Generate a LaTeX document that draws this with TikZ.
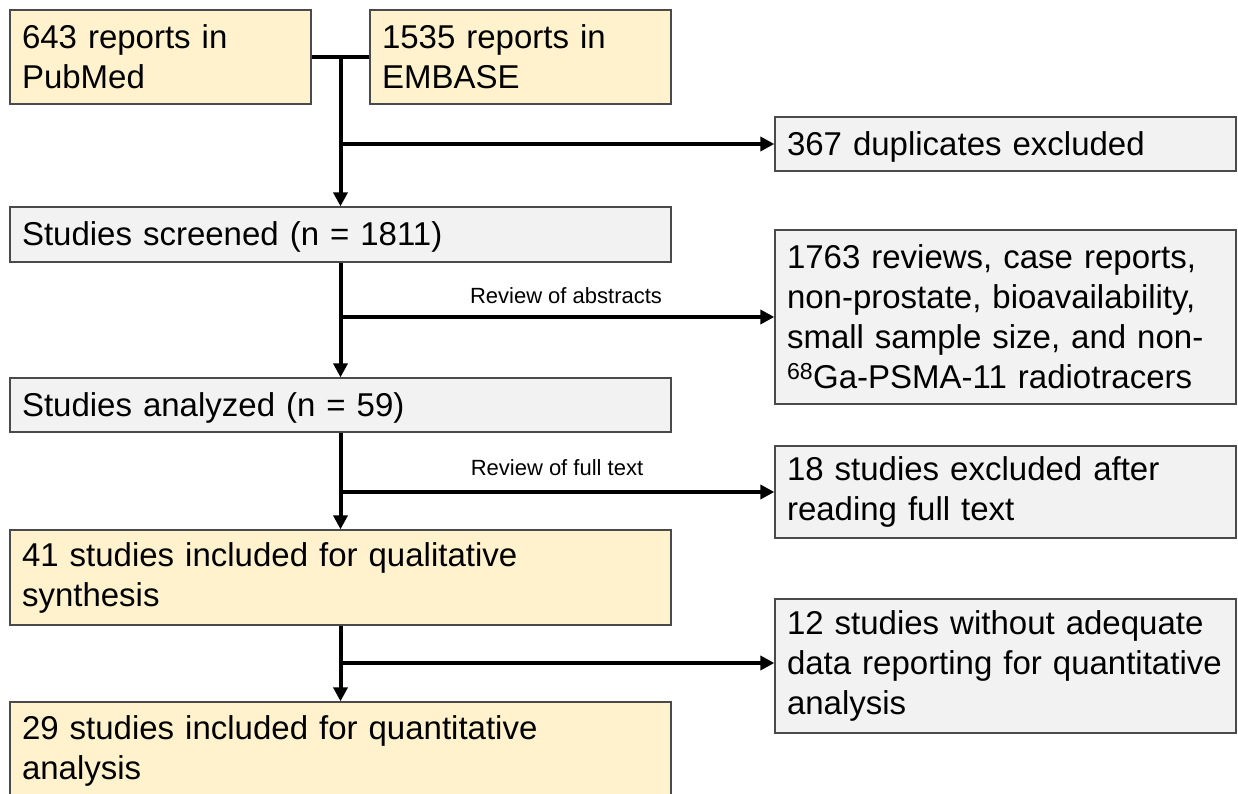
\documentclass[tikz,border=0pt]{standalone}
\usepackage{fontspec}
\setmainfont{Liberation Sans}
\usetikzlibrary{arrows.meta,calc}
\definecolor{boxyellow}{HTML}{FFF2CC}
\definecolor{boxgray}{HTML}{F2F2F2}
\definecolor{boxline}{HTML}{4A4A4A}
\tikzset{
  box/.style={draw=boxline, line width=1.3pt, rectangle, align=left,
    inner xsep=12pt, inner ysep=0pt, font=\fontsize{33}{40}\selectfont},
  ybox/.style={box, fill=boxyellow},
  gbox/.style={box, fill=boxgray},
  oneline/.style={text height=30pt, text depth=7pt},
  wide/.style={text width=637pt, minimum width=661pt},
  half/.style={text width=277pt, minimum width=301pt},
  side/.style={text width=437pt, minimum width=461pt},
  flow/.style={line width=4pt, -{Triangle[length=14pt,width=14pt]}},
  link/.style={line width=4pt},
  lbl/.style={font=\fontsize{22}{26}\selectfont, inner sep=0pt}
}
\begin{document}
\begin{tikzpicture}[x=1pt,y=1pt]
\useasboundingbox (0,0) rectangle (1238,794);
\begin{scope}
\clip (0,0) rectangle (1238,794);
\node[ybox, half, minimum height=94pt] (pub) at (160.5,737) {643 reports in\\PubMed};
\node[ybox, half, minimum height=94pt] (emb) at (520.5,737) {1535 reports in\\EMBASE};
\node[gbox, side, oneline, minimum height=54pt] (dup) at (1005.5,650) {367 duplicates excluded};
\node[gbox, wide, oneline, minimum height=55pt] (scr) at (340.5,559.5) {Studies screened (n = 1811)};
\node[gbox, side, minimum height=174pt] (rev) at (1005.5,477) {1763 reviews, case reports,\\non-prostate, bioavailability,\\small sample size, and non-\\\textsuperscript{68}Ga-PSMA-11 radiotracers};
\node[gbox, wide, oneline, minimum height=54pt] (ana) at (340.5,389) {Studies analyzed (n = 59)};
\node[gbox, side, minimum height=92pt] (ful) at (1005.5,302) {18 studies excluded after\\reading full text};
\node[ybox, wide, minimum height=95pt] (qual) at (340.5,216.5) {41 studies included for qualitative\\synthesis};
\node[gbox, side, minimum height=134pt] (nod) at (1005.5,128) {12 studies without adequate\\data reporting for quantitative\\analysis};
\node[ybox, wide, minimum height=98pt] (quan) at (340.5,43) {29 studies included for quantitative\\analysis};

\node[lbl] (la) at (566,498) {Review of abstracts};
\node[lbl] (lf) at (557,326) {Review of full text};

\draw[link] (pub.east) -- (emb.west);
\coordinate (j0) at (scr.north |- pub.east);
\draw[flow] (j0) -- (scr.north);
\draw[flow] (j0 |- dup.west) -- (dup.west);

\draw[flow] (scr.south) -- (ana.north);
\draw[flow] (scr.south |- rev.west) -- (rev.west);

\draw[flow] (ana.south) -- (qual.north);
\draw[flow] (ana.south |- ful.west) -- (ful.west);

\draw[flow] (qual.south) -- (quan.north);
\coordinate (j3) at ($(qual.south |- nod.west)+(0,3)$);
\draw[flow] (j3) -- (j3 -| nod.west);
\end{scope}
\end{tikzpicture}
\end{document}
